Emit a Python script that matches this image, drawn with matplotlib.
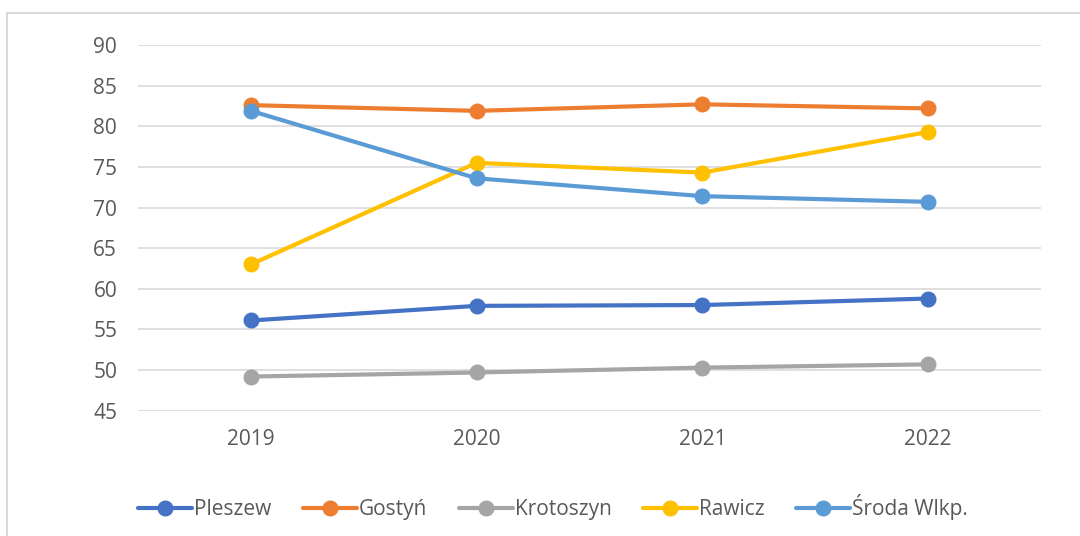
import matplotlib.pyplot as plt
from matplotlib.patches import Rectangle

# Data
years = ["2019", "2020", "2021", "2022"]
pleszew = [56.1, 57.9, 58.0, 58.8]
gostyn = [82.6, 81.9, 82.7, 82.2]
krotoszyn = [49.2, 49.7, 50.3, 50.7]
rawicz = [63.0, 75.5, 74.3, 79.3]
sroda = [81.9, 73.6, 71.4, 70.7]

series = [
    ("Pleszew", pleszew, "#4472C4"),
    ("Gostyń", gostyn, "#ED7D31"),
    ("Krotoszyn", krotoszyn, "#A5A5A5"),
    ("Rawicz", rawicz, "#FFC000"),
    ("Środa Wlkp.", sroda, "#5B9BD5"),
]

plt.rcParams['font.family'] = ['Open Sans', 'DejaVu Sans']
text_col = "#595959"

fig = plt.figure(figsize=(10.8, 5.36), dpi=100)
ax = fig.add_axes([0.1278, 0.2338, 0.8361, 0.6822])

x = range(len(years))
for name, vals, col in series:
    ax.plot(x, vals, color=col, lw=3, marker="o", markersize=10.5,
            label=name, solid_capstyle="round")

ax.set_xlim(-0.5, len(years) - 0.5)
ax.set_ylim(45, 90)
ax.set_yticks(range(45, 91, 5))
ax.set_xticks(list(x))
ax.set_xticklabels(years)
ax.grid(axis="y", color="#d9d9d9", lw=1.2)
ax.set_axisbelow(True)
for s in ax.spines.values():
    s.set_visible(False)
ax.tick_params(length=0, labelsize=15, colors=text_col)
ax.tick_params(axis="y", pad=15)
ax.tick_params(axis="x", pad=13)

leg = fig.legend(loc="center", bbox_to_anchor=(0.512, 0.054), ncol=5,
                 frameon=False, fontsize=15, handlelength=2.6,
                 columnspacing=1.5, handletextpad=0.1, labelcolor=text_col)

# outer chart border
fig.patches.append(Rectangle((7 / 1080, -0.1), 1.2, 1 - 13 / 536 + 0.1,
                             transform=fig.transFigure, fill=False,
                             edgecolor="#d9d9d9", lw=1.5))

fig.savefig("out.png", dpi=100)
